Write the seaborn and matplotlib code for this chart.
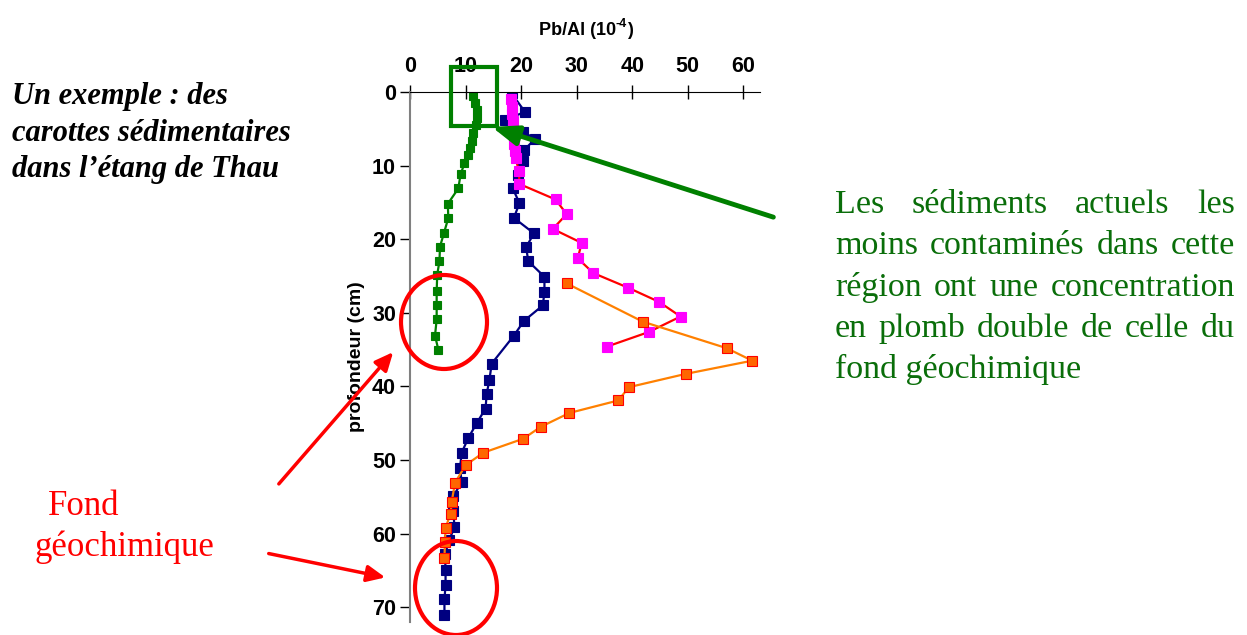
import matplotlib
matplotlib.use("Agg")
import matplotlib.pyplot as plt
import seaborn as sns
import pandas as pd
from matplotlib.patches import Ellipse, Rectangle

sns.set_style("white")
plt.rcParams['font.family'] = ['Liberation Sans', 'DejaVu Sans']
plt.rcParams.update({"text.color": "black", "axes.labelcolor": "black",
                     "xtick.color": "black", "ytick.color": "black"})

# Pb/Al (10^-4) versus depth (cm) for four sediment cores
green_depth = [0.6, 1.5, 2.5, 3.5, 4.5, 5.6, 6.7, 7.6, 8.6, 9.7, 11.2, 13.1, 15.2, 17.1,
               19.2, 21.0, 23.0, 24.8, 27.1, 29.0, 30.9, 33.1, 35.0]
green_pbal = [11.4, 11.7, 12.0, 12.1, 11.8, 11.3, 11.1, 10.8, 10.4, 9.8, 9.1, 8.7, 6.8, 6.9,
              6.1, 5.4, 5.3, 4.9, 4.8, 4.8, 4.8, 4.5, 5.1]

navy_depth = [0.2, 2.7, 3.8, 5.4, 6.4, 7.9, 9.4, 11.3, 13.1, 15.1, 17.1, 19.2, 21.1, 23.0,
              25.1, 27.2, 29.0, 31.1, 33.1, 36.9, 39.1, 41.0, 43.0, 45.0, 47.0, 49.0, 51.1,
              53.0, 54.9, 56.9, 59.1, 60.8, 62.8, 65.0, 67.0, 68.9, 71.0]
navy_pbal = [18.3, 20.7, 17.1, 20.4, 22.5, 20.5, 20.4, 19.5, 18.5, 19.7, 18.7, 22.3, 20.9, 21.3,
             24.2, 24.2, 23.9, 20.5, 18.7, 14.7, 14.3, 13.8, 13.6, 12.0, 10.5, 9.3, 9.0,
             9.3, 7.8, 7.8, 8.0, 7.1, 6.3, 6.4, 6.4, 6.2, 6.2]

magenta_depth = [1.0, 2.0, 3.0, 4.0, 5.0, 6.0, 7.0, 8.0, 9.0, 10.7, 12.5, 14.6, 16.6, 18.6,
                 20.5, 22.6, 24.6, 26.6, 28.5, 30.5, 32.6, 34.6]
magenta_pbal = [18.2, 18.3, 18.4, 18.5, 18.6, 18.7, 18.8, 18.9, 19.0, 19.6, 19.7, 26.2, 28.2, 25.7,
                30.9, 30.2, 33.0, 39.3, 44.8, 48.7, 43.0, 35.4]

orange_depth = [26.0, 31.2, 34.8, 36.5, 38.3, 40.1, 41.9, 43.6, 45.5, 47.1, 49.0, 50.7, 53.1,
                55.7, 57.3, 59.2, 61.1, 63.3]
orange_pbal = [28.2, 41.9, 57.0, 61.6, 49.6, 39.4, 37.5, 28.7, 23.5, 20.4, 13.2, 10.0, 8.1,
               7.5, 7.3, 6.4, 6.3, 6.2]

x_ticks = [0, 10, 20, 30, 40, 50, 60]
y_ticks = [0, 10, 20, 30, 40, 50, 60, 70]

W, H = 1247, 635
fig = plt.figure(figsize=(W / 100, H / 100), dpi=100)
ax = fig.add_axes([410 / W, 1 - 622 / H, 350 / W, 530 / H])

cores = [
    (green_pbal, green_depth, "#008000", "#008000", "#008000", 6),
    (navy_pbal, navy_depth, "#000080", "#000080", "#000080", 6.5),
    (magenta_pbal, magenta_depth, "#ff0000", "#ff00ff", "#ff00ff", 6.5),
    (orange_pbal, orange_depth, "#ff8000", "#ff6600", "#ff0000", 6.5),
]
for xs, ys, lc, fc, ec, ms in cores:
    df = pd.DataFrame({"pbal": xs, "depth": ys})
    sns.lineplot(data=df, x="pbal", y="depth", sort=False, estimator=None, ax=ax,
                 color=lc, lw=1.6, marker="s", markersize=ms,
                 markerfacecolor=fc, markeredgecolor=ec, markeredgewidth=0.8)

ax.set_xlim(0, 63)
ax.set_ylim(72, 0)
ax.set_xticks(x_ticks)
ax.set_yticks(y_ticks)
ax.xaxis.tick_top()
ax.xaxis.set_label_position("top")
ax.tick_params(axis="x", direction="inout", length=10, width=1, pad=6, labelsize=15.5)
ax.tick_params(axis="y", direction="out", length=7, width=1, pad=3, labelsize=15.5,
               left=True)
for lab in ax.get_xticklabels() + ax.get_yticklabels():
    lab.set_fontweight("bold")
for s in ["right", "bottom"]:
    ax.spines[s].set_visible(False)
ax.spines["top"].set_color("black")
ax.spines["left"].set_color("#808080")
ax.spines["left"].set_linewidth(1.5)
ax.set_xlabel("")
ax.set_ylabel("profondeur (cm)", fontsize=14, fontweight="bold", labelpad=5)

# overlay in pixel coordinates for the annotations
ov = fig.add_axes([0, 0, 1, 1], facecolor="none")
ov.set_xlim(0, W)
ov.set_ylim(H, 0)
ov.axis("off")
fig.canvas.draw()
renderer = fig.canvas.get_renderer()

# axis title with a plain hyphen in the exponent
parts = [ov.text(0, 35, "Pb/Al (10", fontsize=13, fontweight="bold", va="baseline"),
         ov.text(0, 27, "-4", fontsize=9, fontweight="bold", va="baseline"),
         ov.text(0, 35, ")", fontsize=13, fontweight="bold", va="baseline")]
pw = [p.get_window_extent(renderer).width for p in parts]
pos = 586 - sum(pw) / 2
for p, w in zip(parts, pw):
    p.set_x(pos)
    pos += w

serif = ["Liberation Serif", "DejaVu Serif"]
ov.text(12, 177, "Un exemple : des\ncarottes sédimentaires\ndans l\u2019étang de Thau",
        family=serif, fontsize=22, fontweight="bold", fontstyle="italic",
        va="baseline", ha="left", linespacing=1.34)

green_txt = "#0a6e0a"
lines = ["Les sédiments actuels les",
         "moins contaminés dans cette",
         "région ont une concentration",
         "en plomb double de celle du",
         "fond géochimique"]
x0, x1 = 835, 1235
for i, line in enumerate(lines):
    yb = 213 + 41.3 * i
    words = line.split()
    if i == len(lines) - 1:
        ov.text(x0, yb, line, family=serif, fontsize=24.5, color=green_txt, va="baseline")
        continue
    ts = [ov.text(0, yb, w, family=serif, fontsize=24.5, color=green_txt, va="baseline")
          for w in words]
    widths = [t.get_window_extent(renderer).width for t in ts]
    gap = (x1 - x0 - sum(widths)) / (len(words) - 1)
    pos = x0
    for t, w in zip(ts, widths):
        t.set_x(pos)
        pos += w + gap

ov.text(48, 515, "Fond", family=serif, fontsize=25, color="#ff0000", va="baseline")
ov.text(35, 556, "géochimique", family=serif, fontsize=25, color="#ff0000", va="baseline")

ov.add_patch(Ellipse((444, 322), 86, 94, fill=False, ec="#ff0000", lw=3))
ov.add_patch(Ellipse((456, 588), 82, 94, fill=False, ec="#ff0000", lw=3))
ov.add_patch(Rectangle((451, 67), 46, 59, fill=False, ec="#008000", lw=3))

ov.annotate("", xy=(395, 350), xytext=(277, 486),
            arrowprops=dict(arrowstyle="-|>,head_length=1.1,head_width=0.5",
                            color="#ff0000", lw=2.5))
ov.annotate("", xy=(388, 578), xytext=(266, 553),
            arrowprops=dict(arrowstyle="-|>,head_length=1.1,head_width=0.5",
                            color="#ff0000", lw=2.5))
ov.annotate("", xy=(489, 126), xytext=(776, 218),
            arrowprops=dict(arrowstyle="-|>,head_length=1.6,head_width=0.6",
                            color="#008000", lw=3.5))

fig.savefig("out.png", dpi=100)
